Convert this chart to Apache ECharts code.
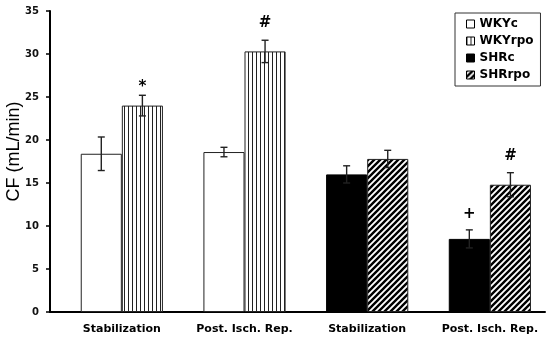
<!DOCTYPE html>
<html>
<head>
<meta charset="utf-8">
<script src="https://cdn.jsdelivr.net/npm/echarts@6/dist/echarts.min.js"></script>
<style>
html,body{margin:0;padding:0;background:#fff;}
#chart{width:550px;height:341px;}
</style>
</head>
<body>
<div id="chart"></div>
<script>
// ---- data ----
const categories = ['Stabilization', 'Post. Isch. Rep.', 'Stabilization', 'Post. Isch. Rep.'];
const seriesNames = ['WKYc', 'WKYrpo', 'SHRc', 'SHRrpo'];
const wkycValues = [18.4, 18.6, '-', '-'];
const wkyrpoValues = [24.0, 30.3, '-', '-'];
const shrcValues = ['-', '-', 16.0, 8.5];
const shrrpoValues = ['-', '-', 17.8, 14.8];
const controlErrors = [1.95, 0.55, 1.0, 1.05];
const rpoErrors = [1.2, 1.3, 1.0, 1.4];
const controlMarks = ['', '', '', '+'];
const rpoMarks = ['*', '#', '', '#'];
const yMin = 0, yMax = 35, yStep = 5;
const yTitle = 'CF (mL/min)';

// ---- patterns ----
function vertPattern() {
  const c = document.createElement('canvas');
  c.width = 4; c.height = 4;
  const g = c.getContext('2d');
  g.fillStyle = '#fff'; g.fillRect(0, 0, 4, 4);
  g.fillStyle = '#222'; g.fillRect(0, 0, 1, 4);
  return c;
}
function diagPattern() {
  const s = 6;
  const c = document.createElement('canvas');
  c.width = s; c.height = s;
  const g = c.getContext('2d');
  g.fillStyle = '#fff'; g.fillRect(0, 0, s, s);
  g.strokeStyle = '#000'; g.lineWidth = 2.4;
  g.beginPath();
  g.moveTo(-s, 2 * s); g.lineTo(2 * s, -s);
  g.moveTo(-2 * s, 2 * s); g.lineTo(s, -s);
  g.moveTo(0, 2 * s); g.lineTo(3 * s, -s);
  g.stroke();
  return c;
}
const vPat = { image: vertPattern(), repeat: 'repeat' };
const dPat = { image: diagPattern(), repeat: 'repeat' };

const catGap = 0.33;
const pick = (a, b) => a.map((v, i) => (v !== '-' ? v : b[i]));
const controlVals = pick(wkycValues, shrcValues);
const rpoVals = pick(wkyrpoValues, shrrpoValues);
const errData = [];
const errMarks = [];
categories.forEach((_, i) => {
  errData.push([i, controlVals[i], controlErrors[i], 0]); errMarks.push(controlMarks[i]);
  errData.push([i, rpoVals[i], rpoErrors[i], 1]); errMarks.push(rpoMarks[i]);
});
const markOffset = { '*': 8, '#': 17, '+': 16 };

const font = 'DejaVu Sans';
const chart = echarts.init(document.getElementById('chart'), null, { renderer: 'canvas' });

const barBase = {
  type: 'bar', xAxisIndex: 1, yAxisIndex: 1,
  barGap: 0, barCategoryGap: (catGap * 100) + '%',
  emphasis: { disabled: true }, silent: true
};

chart.setOption({
  animation: false,
  backgroundColor: '#fff',
  grid: [
    { left: 50, top: 11, width: 495, height: 301, outerBoundsMode: 'none', containLabel: false },
    { left: 60.5, top: 11, width: 490.7, height: 301, outerBoundsMode: 'none', containLabel: false }
  ],
  legend: {
    data: seriesNames,
    orient: 'vertical',
    left: 455, top: 13,
    padding: [5, 7, 5, 11],
    itemWidth: 8, itemHeight: 8, itemGap: 5,
    borderColor: '#333', borderWidth: 1,
    selectedMode: false,
    icon: 'rect',
    itemStyle: { borderColor: '#000', borderWidth: 1 },
    textStyle: { fontFamily: font, fontWeight: 'bold', fontSize: 12, color: '#000' }
  },
  xAxis: [
    { type: 'value', gridIndex: 0, min: 0, max: 1,
      axisLine: { show: true, lineStyle: { color: '#000', width: 2 } },
      axisTick: { show: false }, axisLabel: { show: false }, splitLine: { show: false } },
    { type: 'category', gridIndex: 1, data: categories,
      axisLine: { show: false }, axisTick: { show: false },
      axisLabel: { fontFamily: font, fontWeight: 'bold', fontSize: 11, color: '#000', margin: 12, interval: 0 } }
  ],
  yAxis: [
    { type: 'value', gridIndex: 0, min: yMin, max: yMax, interval: yStep,
      name: yTitle, nameLocation: 'middle', nameGap: 27, nameMoveOverlap: false,
      nameTextStyle: { fontFamily: 'Arial, Liberation Sans', fontSize: 18, color: '#000', padding: [0, 0, 0, 20] },
      axisLine: { show: true, lineStyle: { color: '#000', width: 2 } },
      axisTick: { show: true, length: 4, lineStyle: { color: '#000', width: 1.5 } },
      axisLabel: { fontFamily: font, fontWeight: 'bold', fontSize: 10, color: '#111', margin: 11 },
      splitLine: { show: false } },
    { type: 'value', gridIndex: 1, min: yMin, max: yMax, interval: yStep, show: false }
  ],
  series: [
    Object.assign({}, barBase, { name: 'WKYc', stack: 'c', data: wkycValues,
      itemStyle: { color: '#fff', borderColor: '#222', borderWidth: 1 } }),
    Object.assign({}, barBase, { name: 'WKYrpo', stack: 'r', data: wkyrpoValues,
      itemStyle: { color: vPat, borderColor: '#222', borderWidth: 1 } }),
    Object.assign({}, barBase, { name: 'SHRc', stack: 'c', data: shrcValues,
      itemStyle: { color: '#000', borderColor: '#000', borderWidth: 1 } }),
    Object.assign({}, barBase, { name: 'SHRrpo', stack: 'r', data: shrrpoValues,
      itemStyle: { color: dPat, borderColor: '#222', borderWidth: 1 } }),
    {
      name: 'err', type: 'custom', xAxisIndex: 1, yAxisIndex: 1, z: 5, silent: true,
      data: errData,
      renderItem: function (params, api) {
        const cat = api.value(0), v = api.value(1), e = api.value(2), slot = api.value(3);
        const band = api.size([1, 0])[0];
        const bw = band * (1 - catGap) / 2;
        const cx = api.coord([cat, 0])[0] + (slot === 0 ? -bw / 2 : bw / 2);
        const yt = api.coord([cat, v + e])[1];
        const yb = api.coord([cat, v - e])[1];
        const cap = 3.5;
        const st = { stroke: '#222', lineWidth: 1.4 };
        const children = [
          { type: 'line', shape: { x1: cx, y1: yt, x2: cx, y2: yb }, style: st },
          { type: 'line', shape: { x1: cx - cap, y1: yt, x2: cx + cap, y2: yt }, style: st },
          { type: 'line', shape: { x1: cx - cap, y1: yb, x2: cx + cap, y2: yb }, style: st }
        ];
        const m = errMarks[params.dataIndex];
        if (m) {
          children.push({ type: 'text', style: {
            text: m, x: cx, y: yt - markOffset[m], align: 'center', verticalAlign: 'middle',
            font: 'bold 15px "DejaVu Sans"', fill: '#000' } });
        }
        return { type: 'group', children: children };
      }
    }
  ]
});
</script>
</body>
</html>
